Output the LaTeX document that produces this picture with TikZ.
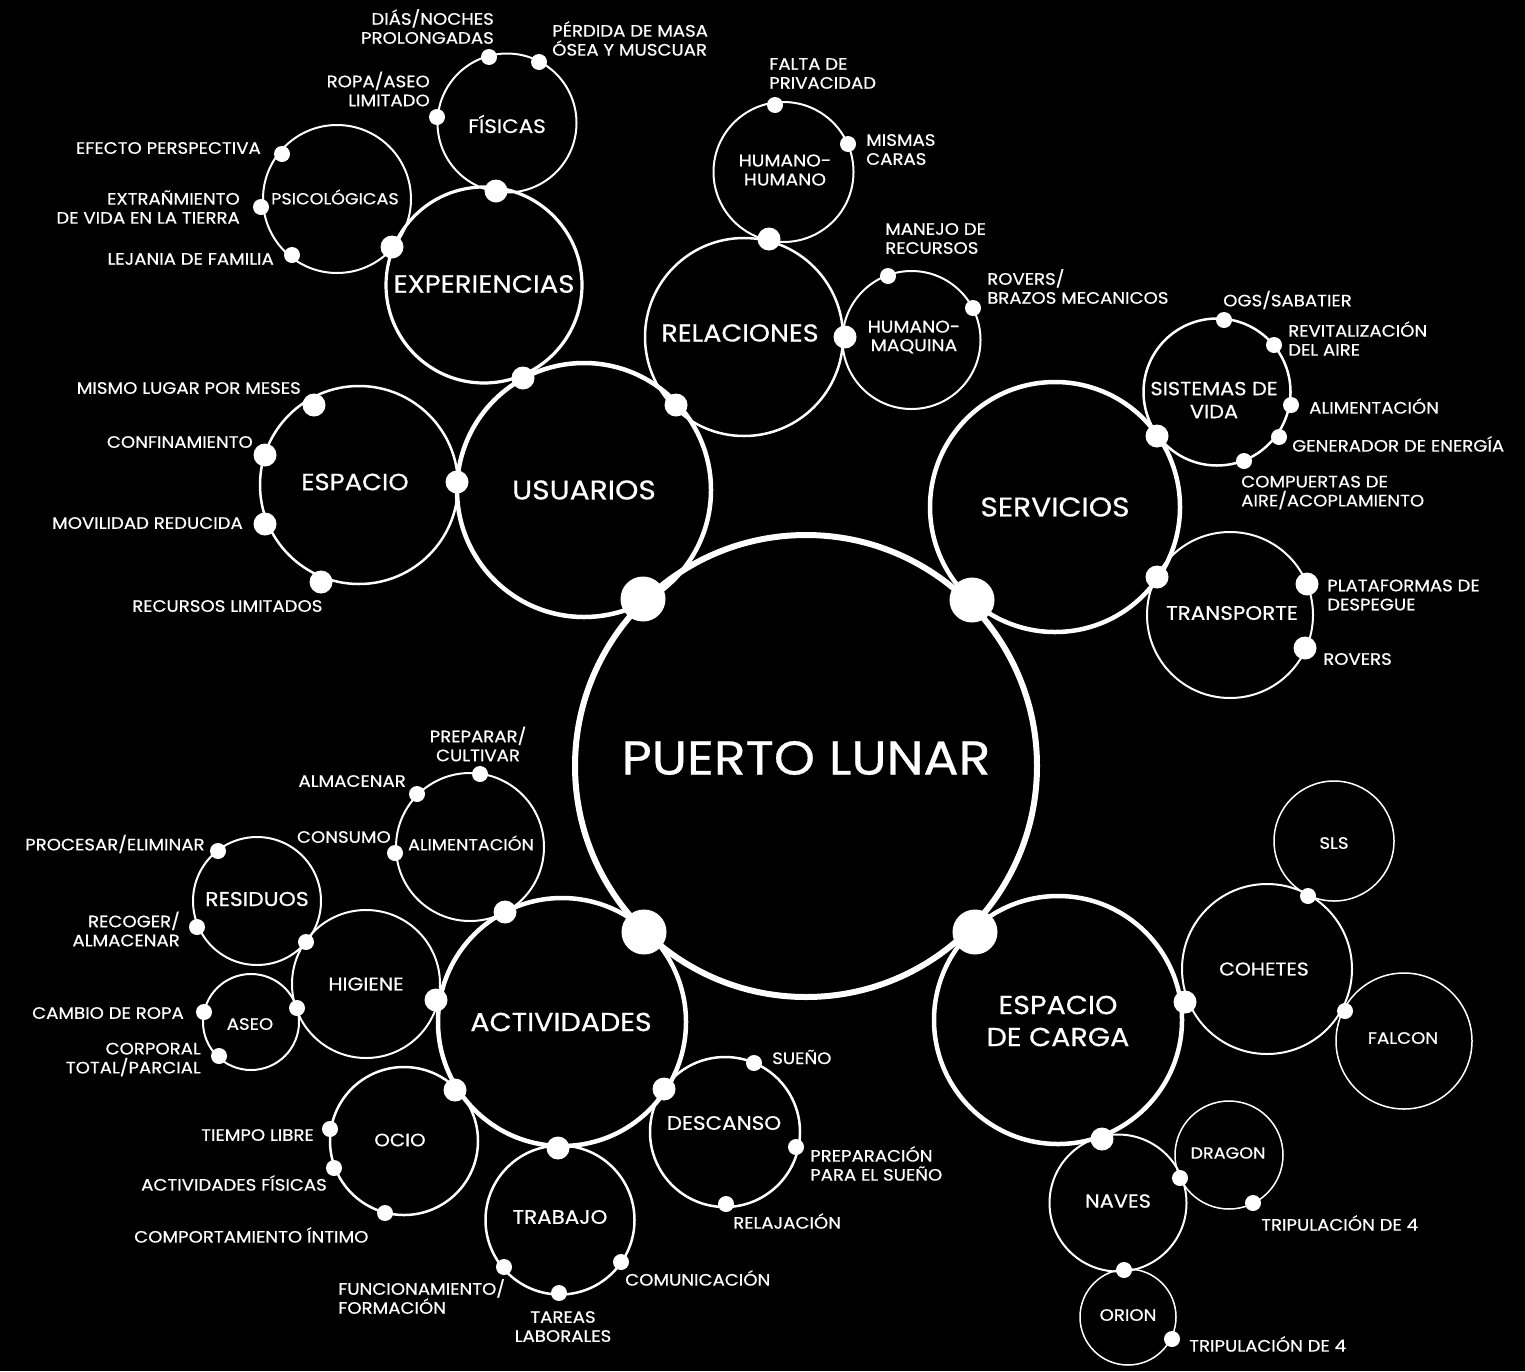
\documentclass[tikz,border=0pt]{standalone}
\usepackage{fontspec}
\setmainfont{Poppins}[FakeStretch=1.1,FakeBold=0.6]
\begin{document}
\begin{tikzpicture}[x=1pt,y=-1pt,
  ring/.style={circle, draw=white, inner sep=0pt, minimum size=#1},
  bigdot/.style={circle, fill=white, inner sep=0pt, minimum size=45pt},
  middot/.style={circle, fill=white, inner sep=0pt, minimum size=23pt},
  smalldot/.style={circle, fill=white, inner sep=0pt, minimum size=16pt},
  ttl/.style 2 args={text=white, inner sep=0pt, align=center, font=\fontsize{#1}{#2}\selectfont},
  lbl/.style={text=white, inner sep=0pt, font=\fontsize{16.5}{19}\selectfont},
  lblL/.style={lbl, anchor=west, align=left},
  lblR/.style={lbl, anchor=east, align=right},
  lblC/.style={lbl, anchor=center, align=center}]
\fill[black] (0,0) rectangle (1525,1371);
\useasboundingbox (0,0) rectangle (1525,1371);

% ---------- circles ----------
\node[ring=462pt, line width=6pt] (pl) at (806,766) {};
\node[ring=254pt, line width=4.5pt] (usu) at (584,490) {};
\node[ring=250pt, line width=4.5pt] (serv) at (1055,507) {};
\node[ring=248pt, line width=4.5pt] (act) at (562,1022) {};
\node[ring=248pt, line width=4.5pt] (carga) at (1058,1020) {};
\node[ring=196pt, line width=3.2pt] (exp) at (484,285) {};
\node[ring=139pt, line width=2pt] (fis) at (507,123) {};
\node[ring=148pt, line width=2pt] (psi) at (337,199) {};
\node[ring=198pt, line width=2.5pt] (esp) at (359,485) {};
\node[ring=198pt, line width=2.5pt] (rel) at (744,337) {};
\node[ring=140pt, line width=2pt] (hh) at (783.5,172) {};
\node[ring=138pt, line width=2pt] (hm) at (911.5,340) {};
\node[ring=147pt, line width=2.5pt] (sv) at (1217,392) {};
\node[ring=166pt, line width=2pt] (tr) at (1230,615) {};
\node[ring=170pt, line width=2pt] (cohe) at (1267,969) {};
\node[ring=120pt, line width=1.5pt] (sls) at (1334,841) {};
\node[ring=136pt, line width=1.5pt] (falc) at (1404,1041) {};
\node[ring=137pt, line width=2pt] (naves) at (1118,1203) {};
\node[ring=108pt, line width=1.5pt] (drag) at (1229,1155) {};
\node[ring=96pt, line width=1.5pt] (orion) at (1128,1317) {};
\node[ring=148pt, line width=2pt] (alim) at (470,847) {};
\node[ring=128pt, line width=2pt] (res) at (257,901) {};
\node[ring=148pt, line width=2pt] (hig) at (366,984) {};
\node[ring=96pt, line width=2pt] (aseo) at (251,1022) {};
\node[ring=148pt, line width=2.5pt] (ocio) at (404,1141) {};
\node[ring=149pt, line width=2.5pt] (trab) at (560,1220) {};
\node[ring=150pt, line width=2.5pt] (desc) at (725,1132) {};

% ---------- circle titles ----------
\node[ttl={47.5}{56}] (pl-t) at (806,758) {PUERTO LUNAR};
\node[ttl={27}{32}] (usu-t) at (584,490) {USUARIOS};
\node[ttl={27}{32}] (serv-t) at (1055,507) {SERVICIOS};
\node[ttl={26}{32}] (act-t) at (561,1022) {ACTIVIDADES};
\node[ttl={26}{32}] (carga-t) at (1058,1021) {ESPACIO\\DE CARGA};
\node[ttl={25}{30}] (exp-t) at (484,284) {EXPERIENCIAS};
\node[ttl={19.5}{24}] (fis-t) at (507,124) {FÍSICAS};
\node[ttl={16}{20}] (psi-t) at (335,197) {PSICOLÓGICAS};
\node[ttl={23.5}{28}] (esp-t) at (355,482) {ESPACIO};
\node[ttl={24.5}{30}] (rel-t) at (740,333) {RELACIONES};
\node[ttl={17}{19}] (hh-t) at (785,170) {HUMANO-\\HUMANO};
\node[ttl={17}{18.5}] (hm-t) at (914,337) {HUMANO-\\MAQUINA};
\node[ttl={19}{23}] (sv-t) at (1214,400) {SISTEMAS DE\\VIDA};
\node[ttl={19.5}{24}] (tr-t) at (1232,613) {TRANSPORTE};
\node[ttl={18.5}{24}] (cohe-t) at (1264,969) {COHETES};
\node[ttl={16.5}{20}] (sls-t) at (1334,843) {SLS};
\node[ttl={16.5}{20}] (falc-t) at (1403,1038) {FALCON};
\node[ttl={19}{24}] (naves-t) at (1118,1201) {NAVES};
\node[ttl={16}{20}] (drag-t) at (1228,1153) {DRAGON};
\node[ttl={16.5}{20}] (orion-t) at (1128,1315) {ORION};
\node[ttl={16}{20}] (alim-t) at (471,843) {ALIMENTACIÓN};
\node[ttl={20}{24}] (res-t) at (257,899) {RESIDUOS};
\node[ttl={18.5}{24}] (hig-t) at (366,984) {HIGIENE};
\node[ttl={16.5}{20}] (aseo-t) at (250,1024) {ASEO};
\node[ttl={18}{22}] (ocio-t) at (400,1140) {OCIO};
\node[ttl={19.5}{24}] (trab-t) at (560,1217) {TRABAJO};
\node[ttl={19.5}{24}] (desc-t) at (724,1123) {DESCANSO};

% ---------- dots ----------
\node[bigdot] (b1) at (643,599) {};
\node[bigdot] (b2) at (972,600) {};
\node[bigdot] (b3) at (644,932) {};
\node[bigdot] (b4) at (975,932) {};
% fisicas / psicologicas / experiencias
\node[smalldot] (fis1) at (489,57) {};
\node[smalldot] (fis2) at (539,62) {};
\node[smalldot] (fis3) at (437,117) {};
\node[middot] (fisexp) at (496,191) {};
\node[smalldot] (psi1) at (282,154) {};
\node[smalldot] (psi2) at (261,207) {};
\node[smalldot] (psi3) at (292,255) {};
\node[middot] (psiexp) at (392,247) {};
\node[middot] (expusu) at (523,378) {};
\node[middot] (usurel) at (676,405) {};
% espacio
\node[middot] (esp1) at (314,405) {};
\node[middot] (esp2) at (265,455) {};
\node[middot] (esp3) at (265,524) {};
\node[middot] (esp4) at (321,582) {};
\node[middot] (espusu) at (457,482) {};
% relaciones
\node[smalldot] (hh1) at (775,105) {};
\node[smalldot] (hh2) at (848,144) {};
\node[middot] (relhh) at (769,239) {};
\node[smalldot] (hm1) at (888,276) {};
\node[smalldot] (hm2) at (973,308) {};
\node[middot] (relhm) at (845,337) {};
% servicios
\node[smalldot] (sv1) at (1224,320) {};
\node[smalldot] (sv2) at (1274,345) {};
\node[smalldot] (sv3) at (1291,405) {};
\node[smalldot] (sv4) at (1279,437) {};
\node[smalldot] (sv5) at (1244,461) {};
\node[middot] (servsv) at (1157,436) {};
\node[middot] (servtr) at (1157,577) {};
\node[middot] (tr1) at (1307,584) {};
\node[middot] (tr2) at (1305,648) {};
% carga
\node[middot] (cargacohe) at (1185,1002) {};
\node[middot] (carganaves) at (1102,1139) {};
\node[smalldot] (cohesls) at (1308,896) {};
\node[smalldot] (cohefalc) at (1345,1011) {};
\node[smalldot] (navesdrag) at (1180,1178) {};
\node[smalldot] (navesorion) at (1124,1270) {};
\node[smalldot] (drag1) at (1253,1203) {};
\node[smalldot] (orion1) at (1172,1339) {};
% actividades
\node[smalldot] (alim1) at (480,774) {};
\node[smalldot] (alim2) at (417,794) {};
\node[smalldot] (alim3) at (395,853) {};
\node[middot] (actalim) at (505,912) {};
\node[smalldot] (res1) at (218,851) {};
\node[smalldot] (res2) at (197,927) {};
\node[smalldot] (reshig) at (306,942) {};
\node[middot] (acthig) at (436,1000) {};
\node[smalldot] (higaseo) at (297,1008) {};
\node[smalldot] (aseo1) at (204,1012) {};
\node[smalldot] (aseo2) at (219,1056) {};
\node[middot] (actocio) at (455,1090) {};
\node[smalldot] (ocio1) at (330,1129) {};
\node[smalldot] (ocio2) at (334,1168) {};
\node[smalldot] (ocio3) at (385,1213) {};
\node[middot] (acttrab) at (558,1148) {};
\node[smalldot] (trab1) at (504,1267) {};
\node[smalldot] (trab2) at (559,1293) {};
\node[smalldot] (trab3) at (621,1262) {};
\node[middot] (actdesc) at (664,1089) {};
\node[smalldot] (desc1) at (754,1063) {};
\node[smalldot] (desc2) at (796,1147) {};
\node[smalldot] (desc3) at (726,1204) {};

% ---------- labels ----------
\node[lblR] (l-dias) at (494,26.5) {DIÁS/NOCHES\\PROLONGADAS};
\node[lblL] (l-perd) at (552,38.5) {PÉRDIDA DE MASA\\ÓSEA Y MUSCUAR};
\node[lblR] (l-ropa) at (430,89) {ROPA/ASEO\\LIMITADO};
\node[lblR] (l-efec) at (261,148) {EFECTO PERSPECTIVA};
\node[lblR] (l-extr) at (240,207) {EXTRAÑMIENTO\\DE VIDA EN LA TIERRA};
\node[lblR] (l-leja) at (274,259) {LEJANIA DE FAMILIA};
\node[lblR] (l-mism) at (301,388) {MISMO LUGAR POR MESES};
\node[lblR] (l-conf) at (253,442) {CONFINAMIENTO};
\node[lblR] (l-movi) at (243,523) {MOVILIDAD REDUCIDA};
\node[lblL] (l-recu) at (132,606) {RECURSOS LIMITADOS};
\node[lblL] (l-falt) at (769,73.5) {FALTA DE\\PRIVACIDAD};
\node[lblL] (l-cara) at (866,149.5) {MISMAS\\CARAS};
\node[lblL] (l-mane) at (885,238.5) {MANEJO DE\\RECURSOS};
\node[lblL] (l-rove) at (987,286.5) {ROVERS/\\BRAZOS MECANICOS};
\node[lblL] (l-ogs) at (1223,300) {OGS/SABATIER};
\node[lblL] (l-revi) at (1288,338.5) {REVITALIZACIÓN\\DEL AIRE};
\node[lblL] (l-alis) at (1309,406) {ALIMENTACIÓN};
\node[lblL] (l-gene) at (1292,444) {GENERADOR DE ENERGÍA};
\node[lblL] (l-comp) at (1241,492.5) {COMPUERTAS DE\\AIRE/ACOPLAMIENTO};
\node[lblL] (l-plat) at (1327,595) {PLATAFORMAS DE\\DESPEGUE};
\node[lblL] (l-rovs) at (1323,659) {ROVERS};
\node[lblC] (l-prep) at (478,744) {PREPARAR/\\CULTIVAR};
\node[lblR] (l-alma) at (406,781) {ALMACENAR};
\node[lblR] (l-cons) at (391,837) {CONSUMO};
\node[lblL] (l-proc) at (25,844) {PROCESAR/ELIMINAR};
\node[lblR] (l-reco) at (180,929) {RECOGER/\\ALMACENAR};
\node[lblR] (l-camb) at (184,1013) {CAMBIO DE ROPA};
\node[lblR] (l-corp) at (201,1059.5) {CORPORAL\\TOTAL/PARCIAL};
\node[lblR] (l-tiem) at (314,1135) {TIEMPO LIBRE};
\node[lblR] (l-acfi) at (327,1183) {ACTIVIDADES FÍSICAS};
\node[lblL] (l-comt) at (134,1235) {COMPORTAMIENTO ÍNTIMO};
\node[lblL] (l-func) at (338,1296.5) {FUNCIONAMIENTO/\\FORMACIÓN};
\node[lblC] (l-tare) at (563,1326.5) {TAREAS\\LABORALES};
\node[lblL] (l-comu) at (625,1278) {COMUNICACIÓN};
\node[lblL] (l-suen) at (772,1057) {SUEÑO};
\node[lblL] (l-prps) at (810,1163.5) {PREPARACIÓN\\PARA EL SUEÑO};
\node[lblL] (l-rela) at (733,1221) {RELAJACIÓN};
\node[lblL] (l-trid) at (1261,1223) {TRIPULACIÓN DE 4};
\node[lblL] (l-trio) at (1189,1344) {TRIPULACIÓN DE 4};
\end{tikzpicture}
\end{document}
